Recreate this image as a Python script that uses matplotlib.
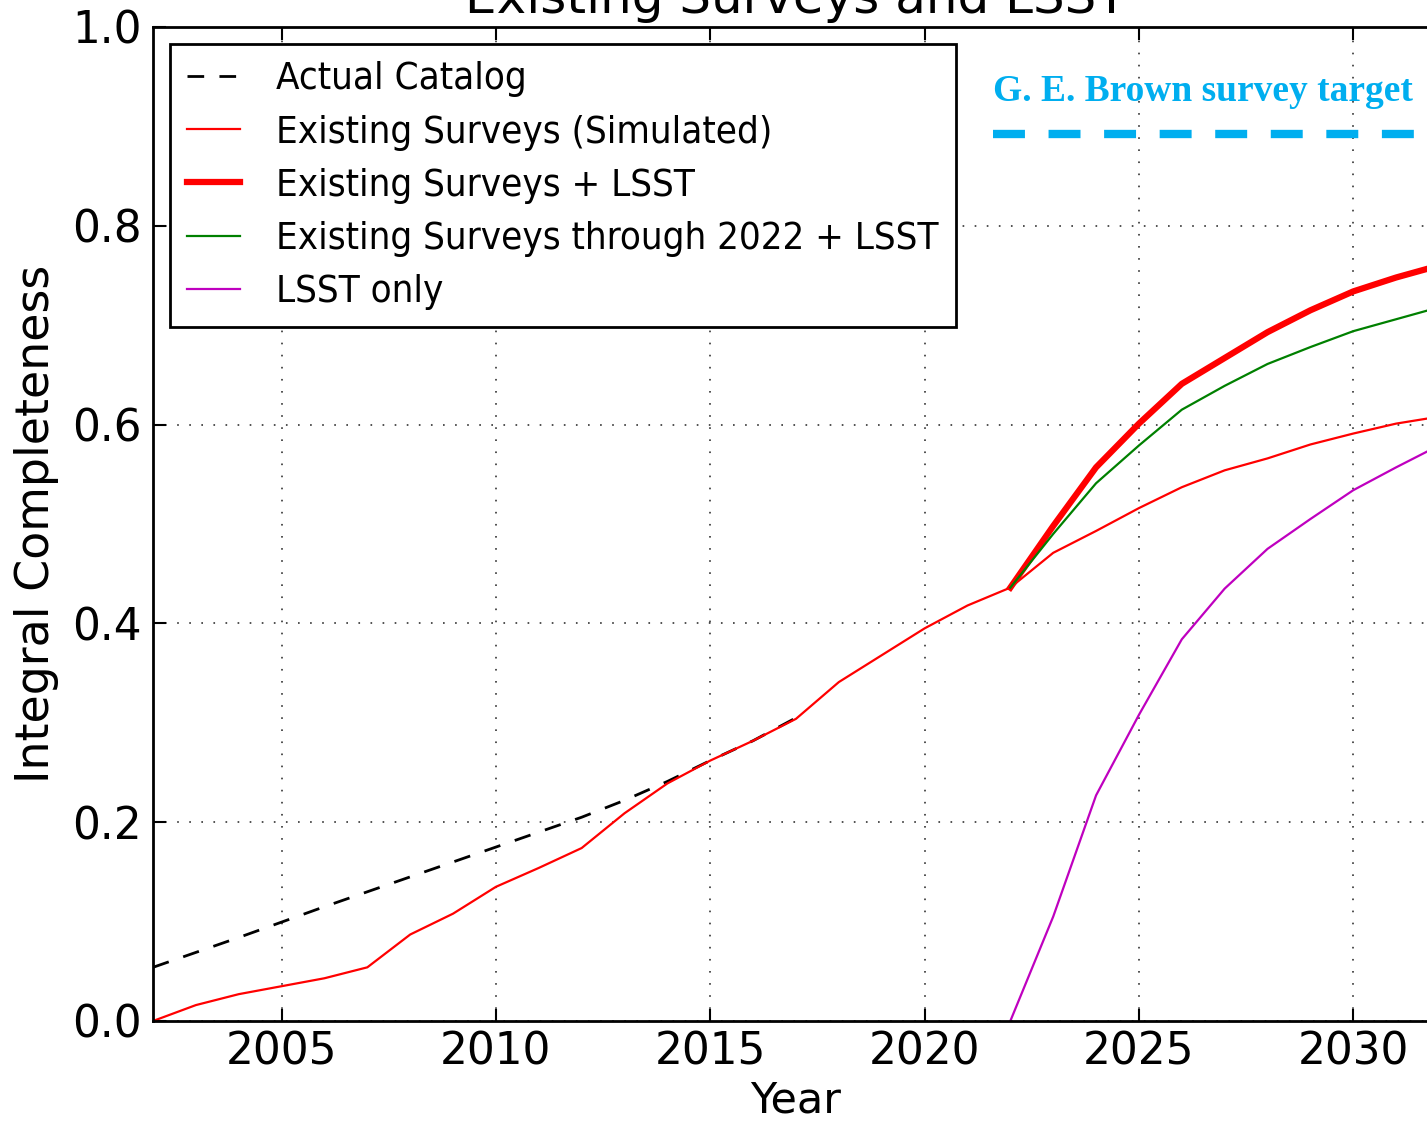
import matplotlib
matplotlib.use("Agg")
import matplotlib.pyplot as plt
from matplotlib.font_manager import FontProperties

plt.rcParams['font.family'] = ['DejaVu Sans']
plt.rcParams['lines.scale_dashes'] = False

# yearly values
years_sim = list(range(2002, 2033))
existing_sim = [0.000, 0.016, 0.027, 0.035, 0.043, 0.054, 0.087, 0.108, 0.135, 0.154,
                0.174, 0.209, 0.239, 0.262, 0.282, 0.304, 0.341, 0.368, 0.395, 0.418,
                0.436, 0.471, 0.493, 0.516, 0.537, 0.554, 0.566, 0.580, 0.591, 0.601,
                0.608]

years_cat = list(range(2002, 2018))
actual_catalog = [0.054, 0.069, 0.084, 0.0995, 0.115, 0.130, 0.145, 0.160, 0.175, 0.190,
                  0.205, 0.222, 0.241, 0.262, 0.282, 0.305]

years_lsst = list(range(2022, 2033))
existing_plus_lsst = [0.436, 0.498, 0.557, 0.601, 0.641, 0.667, 0.693, 0.715, 0.734, 0.748, 0.760]
through2022_plus_lsst = [0.436, 0.490, 0.541, 0.579, 0.615, 0.639, 0.661, 0.678, 0.694, 0.706, 0.718]
lsst_only = [0.000, 0.105, 0.227, 0.308, 0.384, 0.435, 0.475, 0.505, 0.534, 0.557, 0.579]

target_level = 0.892
target_start = 2021.6

fig = plt.figure(figsize=(14.27, 11.23), dpi=100)
ax = fig.add_axes([153/1427, 102/1123, 1286/1427, 994/1123])

ax.plot(years_cat, actual_catalog, color='k', lw=2, dashes=(12, 11), label="Actual Catalog")
ax.plot(years_sim, existing_sim, color='r', lw=1.6, label="Existing Surveys (Simulated)")
ax.plot(years_lsst, existing_plus_lsst, color='r', lw=4.5, label="Existing Surveys + LSST")
ax.plot(years_lsst, through2022_plus_lsst, color=(0, 0.5, 0), lw=1.6,
        label="Existing Surveys through 2022 + LSST")
ax.plot(years_lsst, lsst_only, color=(0.75, 0, 0.75), lw=1.6, label="LSST only")

# target line and its label
ax.plot([target_start, 2032], [target_level, target_level], color='#00AEEF', lw=6,
        dashes=(23, 17), solid_capstyle='butt', dash_capstyle='butt')
ax.text(target_start, target_level + 0.034, "G. E. Brown survey target", color='#00AEEF',
        fontsize=27, fontweight='bold', family='Liberation Serif', ha='left', va='baseline')

ax.set_xlim(2002, 2032)
ax.set_ylim(0, 1.0)
ax.set_xticks([2005, 2010, 2015, 2020, 2025, 2030])
ax.set_yticks([0.0, 0.2, 0.4, 0.6, 0.8, 1.0])
ax.set_yticklabels(["0.0", "0.2", "0.4", "0.6", "0.8", "1.0"])
ax.tick_params(direction='in', length=9, width=1.5, top=True, right=True, labelsize=31.5)
ax.tick_params(axis='x', pad=7)
ax.tick_params(axis='y', pad=8)
ax.grid(True, color='k', lw=1.2, linestyle=(0, (1.2, 7.5)), alpha=0.8)
for s in ax.spines.values():
    s.set_linewidth(2)

ax.set_xlabel("Year", fontsize=31, labelpad=4)
ax.set_ylabel("Integral Completeness", fontsize=33, labelpad=9.5)
ax.set_title("Existing Surveys and LSST", fontsize=36, pad=10)

leg_font = FontProperties(family='DejaVu Sans', stretch='condensed', size=27.5)
leg = ax.legend(loc='upper left', prop=leg_font, handlelength=1.37, handletextpad=0.95,
                labelspacing=0.45, borderpad=0.45, borderaxespad=0.45, fancybox=False,
                framealpha=1, edgecolor='k')
leg.get_frame().set_linewidth(2)

plt.savefig("out.png", dpi=100)
